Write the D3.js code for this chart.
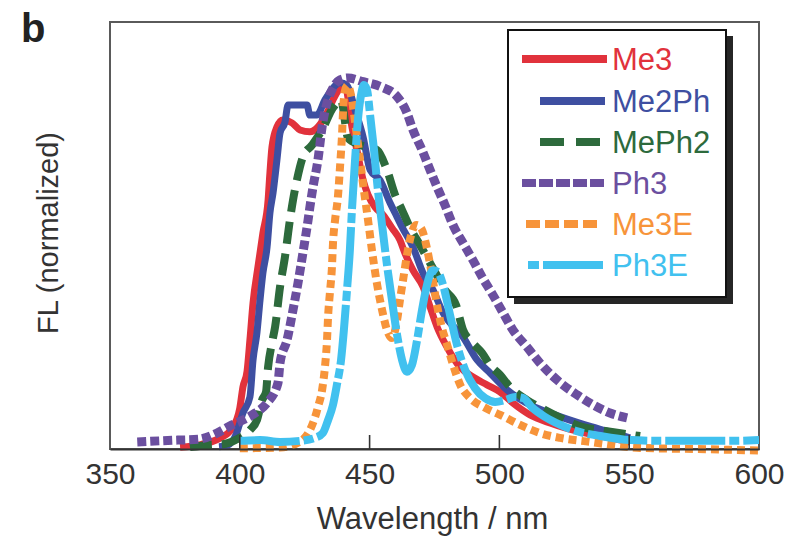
<!DOCTYPE html>
<html>
<head>
<meta charset="utf-8">
<script src="https://cdn.jsdelivr.net/npm/d3@7"></script>
<style>
  html, body { margin: 0; padding: 0; background: #fff; }
  svg { display: block; }
  text { font-family: "Liberation Sans", Arial, Helvetica, sans-serif; }
</style>
</head>
<body>
<svg id="chart" width="803" height="538"></svg>
<script>
// ---- data (wavelength nm, normalized FL) ----
const seriesNames = ["Me3", "Me2Ph", "MePh2", "Ph3", "Me3E", "Ph3E"];
const xTicks = [350, 400, 450, 500, 550, 600];

const me3 = [[377,0.005],[385,0.012],[392,0.028],[397,0.055],[400,0.11],[401.2,0.167],[402.8,0.21],[403.9,0.294],[405.1,0.394],[407,0.491],[408.9,0.582],[410.9,0.671],[411.6,0.744],[412.4,0.814],[414.3,0.868],[416.6,0.887],[420.1,0.879],[423.2,0.86],[427,0.855],[430.1,0.868],[433.6,0.906],[435.9,0.941],[438.6,0.973],[440.5,0.981],[443.2,0.868],[445.1,0.806],[447.5,0.725],[449.4,0.685],[452.1,0.652],[455.2,0.631],[458.6,0.596],[461.7,0.563],[463.6,0.528],[466.7,0.482],[470.6,0.437],[473.3,0.383],[476,0.329],[479.8,0.275],[484.8,0.221],[489.8,0.194],[495.2,0.173],[500.2,0.154],[505.2,0.124],[511.8,0.092],[519.5,0.07],[531,0.046],[542.6,0.03],[550.3,0.019]];

const me2ph = [[392,0.006],[395.5,0.011],[398.5,0.038],[401.2,0.097],[403.9,0.14],[405.1,0.24],[406.6,0.313],[407.8,0.402],[408.9,0.474],[410.5,0.544],[411.6,0.636],[412.8,0.69],[414.3,0.779],[415.5,0.852],[417.4,0.881],[418.6,0.927],[425.9,0.927],[427,0.9],[429.7,0.9],[432.8,0.941],[435.9,0.973],[438.6,0.987],[441.3,0.98],[444.4,0.914],[447.5,0.841],[450.2,0.752],[454,0.725],[457.9,0.663],[460.6,0.625],[462.5,0.598],[466.7,0.544],[470.6,0.474],[474.4,0.429],[478.3,0.367],[486,0.302],[491.4,0.24],[496.4,0.205],[503,0.159],[511.8,0.119],[521.4,0.092],[533,0.065],[542.6,0.046],[550.3,0.03]];

const meph2 = [[380.8,0.005],[388.5,0.011],[393.5,0.013],[398.2,0.024],[403.9,0.051],[406.6,0.078],[408.6,0.132],[410.1,0.154],[410.9,0.221],[412.4,0.286],[413.6,0.329],[415.5,0.437],[417.4,0.518],[419.3,0.617],[420.5,0.671],[422,0.725],[424.3,0.787],[427.8,0.819],[431.7,0.86],[435.9,0.92],[439,0.94],[441.7,0.838],[446.3,0.82],[452.8,0.806],[456.7,0.752],[459.8,0.685],[462.5,0.644],[465.6,0.596],[469.4,0.55],[475.2,0.477],[479,0.429],[483.3,0.388],[486,0.321],[489.4,0.288],[493.3,0.259],[496.4,0.226],[500.2,0.2],[504.1,0.167],[510.6,0.132],[517.6,0.105],[525.3,0.078],[532.2,0.059],[538.8,0.051],[543.4,0.046],[554.2,0.035]];

const ph3 = [[360.5,0.019],[369.3,0.022],[376.2,0.024],[383.9,0.026],[391.2,0.043],[397,0.065],[401.2,0.078],[405.9,0.097],[410.5,0.124],[414.7,0.178],[415.5,0.232],[418.2,0.294],[420.5,0.375],[422.4,0.447],[424.3,0.528],[426.3,0.617],[427,0.652],[428.2,0.706],[430.1,0.779],[431.7,0.868],[433.6,0.933],[435.5,0.968],[438.6,0.995],[441.7,1.0],[447.5,0.99],[454.8,0.975],[460.6,0.95],[464.4,0.906],[466.7,0.86],[470.2,0.806],[473.3,0.752],[476,0.706],[479,0.658],[482.1,0.604],[486,0.555],[489.8,0.509],[493.3,0.464],[497.5,0.415],[501.4,0.367],[505.2,0.321],[510.6,0.275],[515.6,0.232],[522.2,0.186],[529.9,0.146],[536.1,0.119],[542.6,0.097],[549.2,0.084]];

const me3e = [[400,0.002],[415.5,0.004],[423.2,0.02],[427,0.051],[429,0.086],[430.1,0.113],[431.7,0.159],[432.8,0.221],[433.6,0.294],[434,0.356],[434.7,0.42],[435.5,0.491],[435.9,0.555],[436.7,0.617],[437.8,0.68],[438.6,0.76],[439.4,0.85],[439.8,0.914],[440.5,0.965],[441.5,0.98],[443.2,0.94],[444.8,0.86],[446.3,0.779],[447.8,0.698],[449.4,0.617],[450.9,0.536],[452.8,0.447],[454.8,0.375],[456.7,0.321],[458.6,0.299],[460.6,0.348],[461.7,0.402],[462.9,0.456],[464.4,0.523],[466,0.577],[467.9,0.604],[469.8,0.596],[471.8,0.55],[473.7,0.482],[475.6,0.402],[477.6,0.334],[479.9,0.28],[482.2,0.226],[484.9,0.173],[488.8,0.137],[494.5,0.111],[500.3,0.092],[508,0.065],[515.6,0.043],[523.3,0.03],[534.9,0.019],[546.5,0.008],[554.2,0.003],[575,0],[600,-0.004]];

const ph3e = [[400,0.022],[407.8,0.024],[415.5,0.019],[423.2,0.022],[429,0.03],[432,0.043],[434,0.078],[435.9,0.119],[437.4,0.173],[439,0.24],[440.1,0.321],[441.3,0.429],[442.4,0.536],[443.2,0.644],[444.4,0.779],[445.5,0.887],[446.7,0.954],[447.8,0.981],[449,0.968],[450.2,0.9],[451.7,0.806],[453.2,0.698],[454.8,0.604],[456.7,0.496],[458.6,0.402],[460.6,0.307],[462.5,0.24],[464.4,0.208],[466.3,0.226],[468.3,0.294],[470.2,0.375],[472.1,0.442],[474.4,0.482],[476.3,0.477],[478.3,0.442],[481,0.361],[483.7,0.28],[486.8,0.213],[490.6,0.164],[494.5,0.137],[498.4,0.127],[502.2,0.132],[506.1,0.14],[509.2,0.137],[512.7,0.111],[517.7,0.086],[523.5,0.065],[529.3,0.049],[538.9,0.035],[550.5,0.024],[562,0.022],[577.3,0.022],[588.8,0.022],[600,0.024]];

const seriesData = [me3, me2ph, meph2, ph3, me3e, ph3e];
const seriesColors = ["#e1323c", "#3e4fa1", "#2d6a3c", "#6b4f9f", "#f7943a", "#41c1ef"];

// ---- layout ----
const svg = d3.select("#chart");
const L = 110, R = 759, T = 22, B = 449;
const x = d3.scaleLinear().domain([350, 600]).range([L, R]);
const y = d3.scaleLinear().domain([0, 1]).range([B, 78]);

// styles per series (plot)
const plotStyle = [
  {w: 7, dash: null},
  {w: 7, dash: null},
  {w: 8, dash: "22,10"},
  {w: 9, dash: "9,4"},
  {w: 8, dash: "8,5"},
  {w: 8, dash: "60,4,10,4"}
];
const legendStyle = [
  {x0: 522, x1: 607, w: 8, dash: null},
  {x0: 540, x1: 605, w: 8, dash: null},
  {x0: 540, x1: 605, w: 8, dash: "24,12"},
  {x0: 522, x1: 607, w: 8, dash: "14,3"},
  {x0: 526, x1: 597, w: 8, dash: "14,5"},
  {x0: 528, x1: 605, w: 8, dash: "11,4,60"}
];

// frame
svg.append("rect").attr("x", L).attr("y", T).attr("width", R - L).attr("height", B - T)
  .attr("fill", "none").attr("stroke", "#5a5a5a").attr("stroke-width", 2);

// curves
const line = d3.line().x(d => x(d[0])).y(d => y(d[1])).curve(d3.curveMonotoneX);
const clip = svg.append("clipPath").attr("id", "clip").append("rect")
  .attr("x", L).attr("y", T).attr("width", R - L).attr("height", B - T + 6);
const g = svg.append("g").attr("clip-path", "url(#clip)");
seriesData.forEach((data, i) => {
  g.append("path").datum(data).attr("d", line)
    .attr("fill", "none").attr("stroke", seriesColors[i])
    .attr("stroke-width", plotStyle[i].w)
    .attr("stroke-dasharray", plotStyle[i].dash)
    .attr("stroke-linejoin", "round");
});

// x axis
const xAxis = d3.axisBottom(x).tickValues(xTicks).tickSize(0).tickPadding(14);
const ax = svg.append("g").attr("transform", `translate(0,${B})`).call(xAxis);
ax.select(".domain").attr("stroke", "#333").attr("stroke-width", 2);
ax.selectAll("text").attr("font-size", 30).attr("fill", "#333")
  .attr("font-family", "'Liberation Sans', Arial, sans-serif");
// inner ticks
svg.append("g").selectAll("line").data(xTicks.slice(1, -1)).join("line")
  .attr("x1", d => x(d)).attr("x2", d => x(d)).attr("y1", B).attr("y2", B - 14)
  .attr("stroke", "#333").attr("stroke-width", 1.6);

// axis titles
svg.append("text").attr("x", (L + R) / 2 - 2).attr("y", 529).attr("text-anchor", "middle")
  .attr("font-size", 31).attr("fill", "#333").text("Wavelength / nm");
svg.append("text").attr("transform", "translate(58,233) rotate(-90)").attr("text-anchor", "middle")
  .attr("font-size", 29).attr("fill", "#333").text("FL (normalized)");
svg.append("text").attr("x", 21).attr("y", 42).attr("font-size", 40).attr("font-weight", "bold")
  .attr("fill", "#222").text("b");

// legend
const lg = svg.append("g");
lg.append("path").attr("d", "M514,36 L733,36 L733,304 L514,304 Z").attr("fill", "#262626");
lg.append("rect").attr("x", 508).attr("y", 30).attr("width", 218).attr("height", 267)
  .attr("fill", "#fff").attr("stroke", "#111").attr("stroke-width", 2);
const rowY = [59, 101, 142, 183, 224, 265];
seriesNames.forEach((name, i) => {
  const s = legendStyle[i];
  lg.append("line").attr("x1", s.x0).attr("x2", s.x1).attr("y1", rowY[i]).attr("y2", rowY[i])
    .attr("stroke", seriesColors[i]).attr("stroke-width", s.w).attr("stroke-dasharray", s.dash);
  lg.append("text").attr("x", 612).attr("y", rowY[i] + 11).attr("font-size", 31)
    .attr("fill", seriesColors[i]).text(name);
});
</script>
</body>
</html>
